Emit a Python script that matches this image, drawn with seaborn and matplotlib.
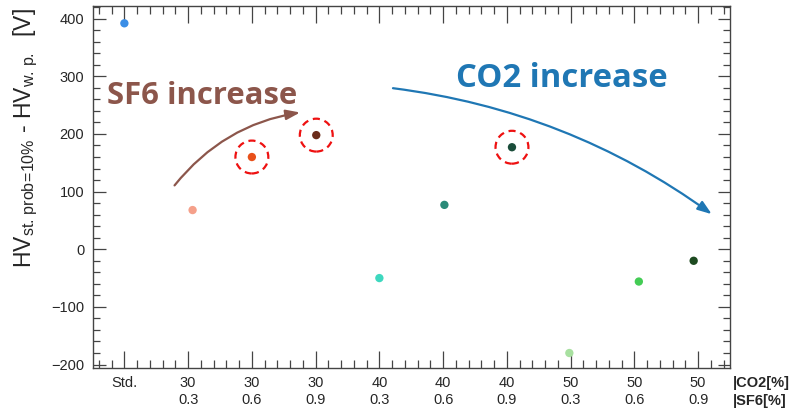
import matplotlib
matplotlib.use("Agg")
import matplotlib.pyplot as plt
from matplotlib.ticker import MultipleLocator
import seaborn as sns
import pandas as pd

# Gas mixtures and measured voltage differences
co2_pct = ["Std.", "30", "30", "30", "40", "40", "40", "50", "50", "50"]
sf6_pct = ["", "0.3", "0.6", "0.9", "0.3", "0.6", "0.9", "0.3", "0.6", "0.9"]
hv_diff = [392, 68, 160, 198, -50, 77, 177, -180, -56, -20]
x_shift = [0.0, 0.07, 0.0, 0.01, 0.0, 0.02, 0.08, -0.02, 0.07, -0.07]
point_colors = ["#3b8ee6", "#f5a08a", "#e8501a", "#6b2c1a", "#3ed8bf",
                "#2a8a78", "#1a4d3a", "#a8e0a0", "#44cc55", "#1d4a20"]
highlighted = [2, 3, 6]

labels = [c if s == "" else f"{c}\n{s}" for c, s in zip(co2_pct, sf6_pct)]
df = pd.DataFrame({
    "pos": [i + d for i, d in enumerate(x_shift)],
    "hv": hv_diff,
    "mix": labels,
})

sns.set_theme(style="white")
plt.rcParams["font.family"] = ["Liberation Sans", "DejaVu Sans"]
plt.rcParams["mathtext.fontset"] = "custom"
plt.rcParams["mathtext.rm"] = "Liberation Sans"
plt.rcParams["mathtext.it"] = "Liberation Sans:italic"

fig = plt.figure(figsize=(7.95, 4.11), dpi=100)
ax = fig.add_axes([92.5 / 795, 1 - 368 / 411, (730 - 92.5) / 795, (368 - 6) / 411])

sns.scatterplot(data=df, x="pos", y="hv", hue="mix", palette=point_colors,
                s=36, edgecolor="none", legend=False, ax=ax, zorder=3)

# Dashed rings around the highlighted points
hl = df.iloc[highlighted]
ax.scatter(hl["pos"], hl["hv"], s=560, facecolors="none", edgecolors="#ee1111",
           linewidths=1.6, linestyles=(0, (3.2, 2.2)), zorder=4)

ax.set_xlim(-0.5, 9.5)
ax.set_ylim(-206, 422)

ax.set_xticks(range(len(labels)))
ax.set_xticklabels(labels, fontsize=10.5, linespacing=1.25)
ax.xaxis.set_minor_locator(MultipleLocator(0.2))
ax.yaxis.set_major_locator(MultipleLocator(100))
ax.yaxis.set_minor_locator(MultipleLocator(20))
ax.tick_params(axis="y", labelsize=10.5)
ax.tick_params(which="both", direction="in", bottom=True, left=True,
               top=True, right=True, color="#444444", width=0.9)
ax.tick_params(axis="x", which="major", length=12, pad=6)
ax.tick_params(axis="x", which="minor", length=6)
ax.tick_params(axis="y", which="major", length=9, pad=6)
ax.tick_params(axis="y", which="minor", length=5)
for sp in ax.spines.values():
    sp.set_color("#444444")
    sp.set_linewidth(1.0)

ax.set_xlabel("")
ax.set_ylabel(r"HV$_{\mathrm{st.\,prob\!=\!10\%}}$ - HV$_{\mathrm{w.\,p.}}$  [V]",
              fontsize=16.5)
ax.yaxis.set_label_coords(-0.083, 0.634)

fig.text(733 / 795, 1 - 383 / 411, "|CO2[%]", fontsize=10.5, fontweight="bold",
         va="center", ha="left")
fig.text(733 / 795, 1 - 401 / 411, "|SF6[%]", fontsize=10.5, fontweight="bold",
         va="center", ha="left")

# Trend annotations
ax.text(-0.27, 265, "SF6 increase", color="#8c564b", fontsize=22.4,
        fontweight="bold", family=["Open Sans", "DejaVu Sans"], va="center")
ax.text(5.2, 296, "CO2 increase", color="#1f77b4", fontsize=23.7,
        fontweight="bold", family=["Open Sans", "DejaVu Sans"], va="center")

ax.annotate("", xy=(2.8, 238), xytext=(0.76, 107),
            arrowprops=dict(arrowstyle="-|>,head_length=0.7,head_width=0.25",
                            color="#8c564b", lw=1.6,
                            connectionstyle="arc3,rad=-0.2"))
ax.annotate("", xy=(9.25, 58), xytext=(4.17, 280),
            arrowprops=dict(arrowstyle="-|>,head_length=0.7,head_width=0.25",
                            color="#1f77b4", lw=1.6,
                            connectionstyle="arc3,rad=-0.13"))

fig.savefig("out.png", dpi=100)
